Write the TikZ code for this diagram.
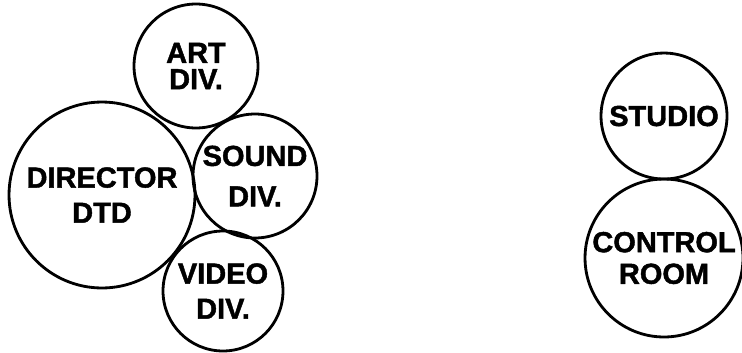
\documentclass[tikz,border=0pt]{standalone}
\usepackage{fontspec}
\setmainfont{Liberation Sans}[BoldFeatures={FakeBold=1.5}]
\usetikzlibrary{positioning}

\begin{document}
\begin{tikzpicture}[x=0.02cm, y=-0.02cm,
      room/.style={draw, circle, line width=1.6pt, inner sep=0pt,
                   outer sep=0pt, align=center,
                   font=\fontsize{16.5}{20}\selectfont\bfseries}
  ]
    \useasboundingbox (0,0) rectangle (742,352);
    % production group
    \node[room, minimum size=3.72cm] (dir) at (102,195) {DIRECTOR\\ DTD};
    \node[room, minimum size=2.48cm] (art) at (196,66) {ART\\[-5pt] DIV.};
    \node[room, minimum size=2.48cm] (snd) at (255,176) {SOUND\\[3pt] DIV.};
    \node[room, minimum size=2.40cm] (vid) at (223,291) {VIDEO\\ DIV.};
    % studio side
    \node[room, minimum size=3.16cm] (ctl) at (664,258) {CONTROL\\[-2pt] ROOM};
    \node[room, minimum size=2.52cm, above=0pt of ctl] (std) {STUDIO};
  \end{tikzpicture}
\end{document}
